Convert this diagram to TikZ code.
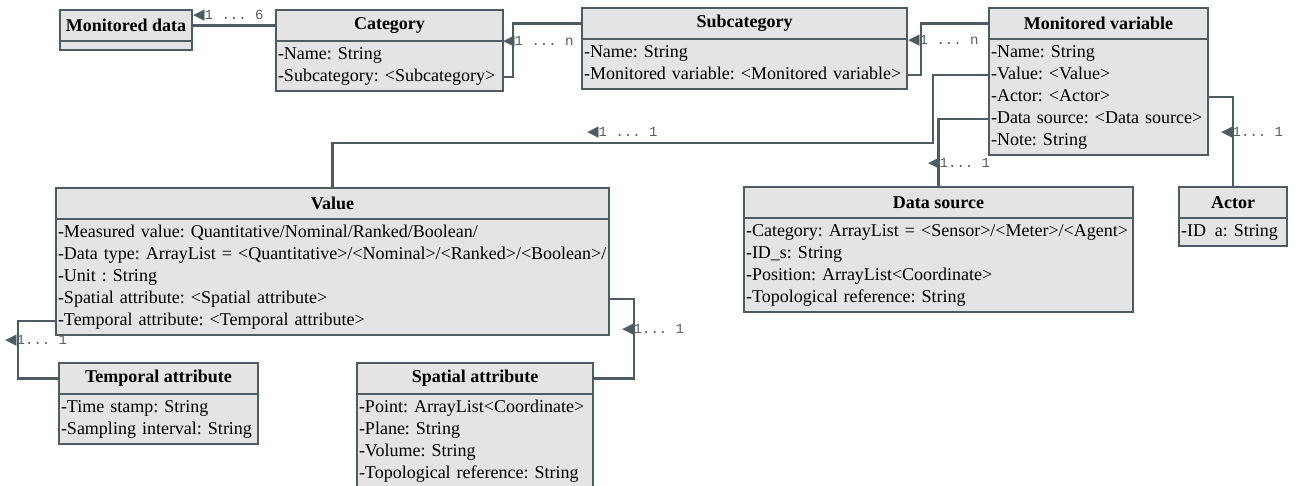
\documentclass[tikz,border=0pt]{standalone}
\usepackage{fontspec}
\setmainfont{Liberation Serif}
\setmonofont{Liberation Mono}
\newfontfamily\symfont{DejaVu Sans}
\definecolor{umlline}{HTML}{4D5B62}
\definecolor{umlfill}{HTML}{E4E4E4}
\definecolor{multtext}{HTML}{5C5C5C}
\newcommand{\tri}{{\color{umlline}\symfont\fontsize{15}{15}\selectfont ◀}}
\frenchspacing

\begin{document}
\begin{tikzpicture}[x=1pt,y=-1pt,
    classbox/.style={draw=umlline, fill=umlfill, line width=2.5pt, outer sep=0pt, anchor=north west},
    classhead/.style={classbox, minimum height=31pt, inner sep=0pt, font=\fontsize{18}{22}\selectfont\bfseries},
    classbody/.style={classbox, inner xsep=2pt, inner ysep=0pt, align=left, font=\fontsize{18}{22}\selectfont,
        execute at begin node=\strut, execute at end node=\strut},
    link/.style={draw=umlline, line width=2.5pt},
    multlabel/.style={anchor=west, inner sep=0pt, text=multtext, font=\fontsize{14}{14}\selectfont\ttfamily}]
    \useasboundingbox (0,0) rectangle (1299,486);

    \node[classhead, minimum width=132pt] (md-h) at (60,10) {Monitored data};
    \node[classbox, minimum width=132pt, minimum height=9pt, inner sep=0pt] (md-b) at (md-h.south west) {};

    \node[classhead, minimum width=227pt] (cat-h) at (276,10) {Category};
    \node[classbody, text width=223pt, minimum height=50pt] (cat-b) at (cat-h.south west)
        {-Name: String\\-Subcategory: <Subcategory>};

    \node[classhead, minimum width=325pt] (sub-h) at (582,8) {Subcategory};
    \node[classbody, text width=321pt, minimum height=50pt] (sub-b) at (sub-h.south west)
        {-Name: String\\-Monitored variable: <Monitored variable>};

    \node[classhead, minimum width=219pt] (mv-h) at (989,8) {Monitored variable};
    \node[classbody, text width=215pt, minimum height=116pt] (mv-b) at (mv-h.south west)
        {-Name: String\\-Value: <Value>\\-Actor: <Actor>\\-Data source: <Data source>\\-Note: String};

    \node[classhead, minimum width=553pt] (val-h) at (56,188) {Value};
    \node[classbody, text width=549pt, minimum height=116pt] (val-b) at (val-h.south west)
        {-Measured value: Quantitative/Nominal/Ranked/Boolean/\\
         -Data type: ArrayList = <Quantitative>/<Nominal>/<Ranked>/<Boolean>/\\
         -Unit : String\\-Spatial attribute: <Spatial attribute>\\-Temporal attribute: <Temporal attribute>};

    \node[classhead, minimum width=389pt] (ds-h) at (744,187) {Data source};
    \node[classbody, text width=385pt, minimum height=94pt] (ds-b) at (ds-h.south west)
        {-Category: ArrayList = <Sensor>/<Meter>/<Agent>\\-ID\_s: String\\-Position: ArrayList<Coordinate>\\-Topological reference: String};

    \node[classhead, minimum width=108pt] (act-h) at (1179,187) {Actor};
    \node[classbody, text width=104pt, minimum height=28pt] (act-b) at (act-h.south west)
        {-ID\phantom{\_}a: String};

    \node[classhead, minimum width=199pt] (tm-h) at (59,363) {Temporal attribute};
    \node[classbody, text width=195pt, minimum height=50pt] (tm-b) at (tm-h.south west)
        {-Time stamp: String\\-Sampling interval: String};

    \node[classhead, minimum width=236pt] (sp-h) at (357,363) {Spatial attribute};
    \node[classbody, text width=232pt, minimum height=94pt] (sp-b) at (sp-h.south west)
        {-Point: ArrayList<Coordinate>\\-Plane: String\\-Volume: String\\-Topological reference: String};

    \draw[link] (cat-h.west) -- (md-h.east);
    \draw[link] (sub-h.west) -- ++(-69,0) |- ([yshift=-36pt]cat-b.north east);
    \draw[link] (mv-h.west) -- ++(-68,0) |- ([yshift=-36pt]sub-b.north east);
    \draw[link] ([yshift=-36pt]mv-b.north west) -| ++(-56,68) -| (val-h.north);
    \draw[link] ([yshift=-80pt]mv-b.north west) -| (ds-h.north);
    \draw[link] ([yshift=-58pt]mv-b.north east) -| (act-h.north);
    \draw[link] ([yshift=-80pt]val-b.north east) -- ++(25,0) |- (sp-h.east);
    \draw[link] ([yshift=-102pt]val-b.north west) -- ++(-38,0) |- (tm-h.west);

    \node[multlabel] (m-md) at (193,16) {\tri1 ... 6};
    \node[multlabel] (m-cat) at (503,42) {\tri1 ... n};
    \node[multlabel] (m-sub) at (908,41) {\tri1 ... n};
    \node[multlabel] (m-val) at (587,133) {\tri1 ... 1};
    \node[multlabel] (m-ds) at (928,164) {\tri1... 1};
    \node[multlabel] (m-act) at (1221,133) {\tri1... 1};
    \node[multlabel] (m-sp) at (622,330) {\tri1... 1};
    \node[multlabel] (m-tm) at (5,341) {\tri1... 1};
\end{tikzpicture}
\end{document}
